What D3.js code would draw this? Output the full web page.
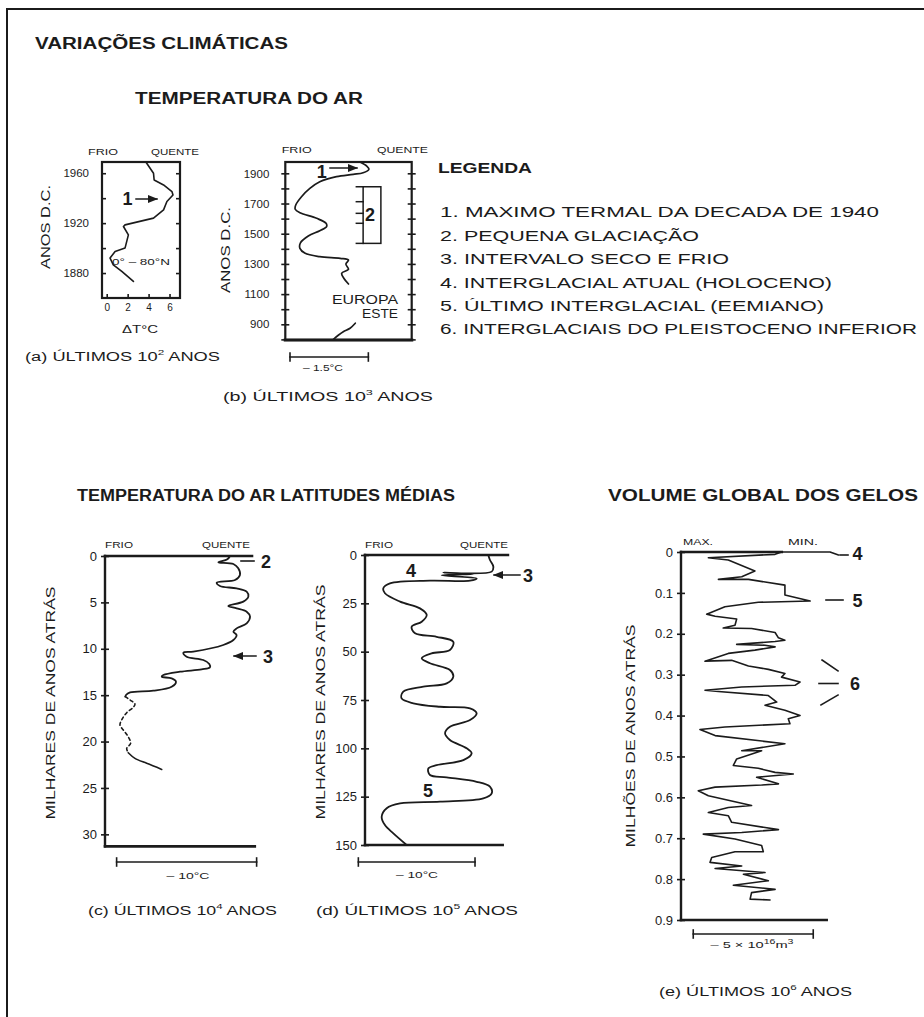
<!DOCTYPE html>
<html><head><meta charset="utf-8">
<script src="https://cdn.jsdelivr.net/npm/d3@7"></script>
<style>
body{margin:0;background:#fff;}
svg{display:block;}
text{font-family:"Liberation Sans", Arial, sans-serif;}
</style></head><body>
<svg id="c" width="924" height="1017"></svg>
<script>
// ---------- DATA ----------
// (a) last 10^2 years, 0-80°N
const aYears = [1969,1960,1954.6,1950.6,1945.3,1942.6,1937.3,1930.6,1924,1918.6,1917.3,1910.6,1900,1897.3,1892,1886.6,1881.3,1873.3];
const aDeltaT = [3.74,4.47,4.53,5.43,6.23,6.33,5.75,5.43,4.47,1.75,1.6,2.07,1.75,0.8,0.32,0.63,1.44,2.55];
const aYearTicks = [1880,1900,1920,1940,1960];
const aYearLabels = [1880,1920,1960];
const aTempTicks = [0,2,4,6];

// (b) last 10^3 years, Eastern Europe
const bYears1 = [1975,1948,1926,1904,1893,1878,1844,1800,1745,1690,1662,1639,1602,1569,1547,1520,1485,1440,1403,1370,1348,1337,1326,1299,1264,1238,1205,1167];
const bTemp1  = [1.43,1.56,1.60,1.49,1.30,0.98,0.66,0.47,0.31,0.20,0.19,0.28,0.60,0.78,0.79,0.66,0.44,0.29,0.28,0.38,0.66,1.05,1.21,1.16,1.21,1.08,1.12,1.21];
const bYears2 = [907,874,851,829,800];
const bTemp2  = [1.34,1.24,1.11,1.02,0.92];
const bYearTicks = [800,900,1000,1100,1200,1300,1400,1500,1600,1700,1800,1900];
const bYearLabels = [900,1100,1300,1500,1700,1900];
const bLittleIceAge = [1811,1436];
const bLittleIceAgeTicks = [1811,1712,1635,1569,1436];

// (c) last 10^4 years (thousands of years ago)
const cAge1  = [0,0.36,0.68,0.86,1.33,2.05,2.59,2.87,3.23,3.49,3.85,4.38,4.92,5.39,5.64,6.00,6.54,7.26,7.80,8.16,8.52,9.05,9.59,10.31,10.42,10.85,11.21,11.64,12.0,12.22,12.47,12.83,13.01,13.19,13.55,14.09,14.52,14.70,14.98,15.16];
const cTemp1 = [8.93,8.74,8.10,9.17,9.52,9.64,9.29,7.98,8.21,9.40,10.12,10.24,9.88,8.81,9.40,10.12,10.36,10.12,9.40,9.17,9.40,9.17,8.45,6.31,5.60,5.83,7.02,7.45,7.5,6.90,5.36,4.17,4.05,4.76,5.07,4.76,3.45,1.79,1.5,1.45];
const cAgeDashed  = [15.16,15.52,15.95,16.31,16.89,17.68,18.22,18.76,19.48,20.19,20.73,21.2];
const cTempDashed = [1.45,1.79,2.14,2.02,1.55,1.19,1.07,1.31,1.66,1.83,1.55,1.66];
const cAge2  = [21.2,21.81,22.35,23.0];
const cTemp2 = [1.66,2.14,2.98,4.05];
const cAgeTicks = [0,5,10,15,20,25,30];

// (d) last 10^5 years (thousands of years ago)
const dAge  = [0,2.6,6.0,8.6,9.1,9.8,10.5,12.1,13.3,13.3,14.7,17.2,19.8,24.1,27.6,31.0,34.5,37.1,40.5,42.3,44.9,49.1,50.9,53.4,56.0,59.5,62.9,66.4,68.1,70.7,74.2,76.7,78.5,79.3,81.9,85.4,88.8,92.2,95.7,100.0,102.6,106.1,108.7,110.4,113.8,115.0,117.3,119.8,123.3,125.9,127.6,128.5,131.0,135.4,139.7,144.0,150];
const dTemp = [10.57,10.71,11.0,10.86,6.71,9.28,6.57,9.57,9.0,5.57,2.14,1.57,1.71,3.0,4.71,5.29,4.86,4.0,4.29,6.14,7.57,7.28,5.71,4.86,5.57,7.28,7.57,7.0,5.0,3.28,3.14,4.14,6.43,9.0,9.57,9.0,7.28,6.86,7.28,8.71,9.14,8.43,6.14,5.43,5.57,7.0,9.57,10.71,10.86,10.14,6.43,3.0,1.86,1.43,1.71,2.43,3.57];
const dAgeTicks = [0,25,50,75,100,125,150];

// (e) last 10^6 years, global ice volume (millions of years ago)
const eAge = [0.0074,0,0,0.0057,0.014,0.0196,0.0466,0.0605,0.067,0.067,0.081,0.105,0.120,0.123,0.134,0.152,0.157,0.164,0.179,0.186,0.187,0.197,0.210,0.216,0.219,0.226,0.228,0.232,0.240,0.248,0.267,0.265,0.279,0.287,0.297,0.306,0.318,0.326,0.330,0.338,0.341,0.351,0.367,0.375,0.387,0.400,0.408,0.420,0.428,0.434,0.449,0.469,0.486,0.486,0.506,0.522,0.529,0.539,0.543,0.551,0.567,0.570,0.575,0.584,0.596,0.620,0.625,0.637,0.645,0.661,0.679,0.686,0.690,0.702,0.718,0.733,0.733,0.747,0.759,0.768,0.774,0.784,0.788,0.804,0.815,0.825,0.833,0.849,0.851];
const eIce = [6.56,6.21,4.19,3.92,1.14,1.97,3.08,2.53,1.56,2.81,4.33,4.33,5.38,3.22,1.83,1.07,1.42,2.32,2.25,1.76,2.94,3.92,4.06,4.33,3.92,2.32,3.5,3.92,3.08,1.97,1.0,2.11,2.81,3.64,4.33,4.19,4.96,4.75,2.53,1.0,1.56,3.64,3.99,3.5,4.33,4.96,4.47,4.54,1.83,0.79,1.42,4.33,2.53,3.36,2.32,2.18,3.22,3.92,4.68,3.15,4.06,3.36,1.42,0.72,1.14,2.94,1.97,1.14,1.97,2.11,4.06,2.53,0.93,2.25,3.36,3.43,2.25,1.28,1.21,2.53,1.42,3.5,2.6,3.64,2.18,3.92,2.94,2.88,3.71];
const eAgeTicks = [0,0.1,0.2,0.3,0.4,0.5,0.6,0.7,0.8,0.9];

const legendItems = [
  "1. MAXIMO TERMAL DA DECADA DE 1940",
  "2. PEQUENA GLACIAÇÃO",
  "3. INTERVALO SECO E FRIO",
  "4. INTERGLACIAL ATUAL (HOLOCENO)",
  "5. ÚLTIMO INTERGLACIAL (EEMIANO)",
  "6. INTERGLACIAIS DO PLEISTOCENO INFERIOR"
];

// ---------- DRAWING ----------
const INK = "#1b1b1b";
const FONT = "Liberation Sans, Arial, sans-serif";
const svg = d3.select("#c");
svg.append("rect").attr("width",924).attr("height",1017).attr("fill","#fff");

const defs = svg.append("defs");
defs.append("marker").attr("id","arr").attr("viewBox","0 0 10 10").attr("refX",9).attr("refY",5)
  .attr("markerWidth",7).attr("markerHeight",7).attr("orient","auto-start-reverse")
  .append("path").attr("d","M0,1 L10,5 L0,9 Z").attr("fill",INK);

function txt(g, x, y, s, o = {}) {
  const t = g.append("text").attr("x", x).attr("y", y)
    .attr("font-size", o.size || 12).attr("font-weight", o.weight || "normal")
    .attr("text-anchor", o.anchor || "start").attr("dominant-baseline", "central")
    .attr("fill", INK).attr("font-family", FONT);
  if (o.rotate) t.attr("transform", `rotate(-90 ${x} ${y})`);
  if (Array.isArray(s)) {
    s.forEach(p => {
      if (typeof p === "string") t.append("tspan").text(p);
      else t.append("tspan").attr("dy", p.dy).attr("font-size", p.size).text(p.t);
    });
  } else t.text(s);
  if (o.len) t.attr("textLength", o.len).attr("lengthAdjust", "spacingAndGlyphs");
  return t;
}
function ln(g, x1, y1, x2, y2, w = 2, extra) {
  const l = g.append("line").attr("x1", x1).attr("y1", y1).attr("x2", x2).attr("y2", y2)
    .attr("stroke", INK).attr("stroke-width", w).attr("stroke-linecap", "square");
  if (extra === "arrowEnd") l.attr("marker-end", "url(#arr)");
  if (extra === "arrowStart") l.attr("marker-start", "url(#arr)");
  return l;
}
function styleAxis(a, fs) {
  a.select(".domain").remove();
  a.selectAll("line").attr("stroke", INK).attr("stroke-width", 1.6);
  a.selectAll("text").attr("font-size", fs).attr("font-family", FONT).attr("fill", INK);
  return a;
}
function sup(t, size = 8) { return [{t, dy: -5, size}]; }
function caption(g, x, y, prefix, exp, len) {
  txt(g, x, y, [prefix + " ÚLTIMOS 10", {t: exp, dy: -5, size: 8}, {t: " ANOS", dy: 5, size: 12.5}], {size: 12.5, len});
}
function scaleBar(g, x1, x2, y) {
  ln(g, x1, y, x2, y, 1.6);
  ln(g, x1, y - 4, x1, y + 4, 1.6);
  ln(g, x2, y - 4, x2, y + 4, 1.6);
}
function curve(g, xs, ys, xScale, yScale, opts = {}) {
  const idx = d3.range(xs.length);
  const line = d3.line().x(i => xScale(xs[i])).y(i => yScale(ys[i]))
    .curve(opts.curve || d3.curveLinear);
  const p = g.append("path").attr("d", line(idx)).attr("fill", "none")
    .attr("stroke", INK).attr("stroke-width", opts.w || 1.7)
    .attr("stroke-linejoin", "round").attr("stroke-linecap", "round");
  if (opts.dash) p.attr("stroke-dasharray", opts.dash);
  return p;
}

// outer frame
svg.append("path").attr("d", "M7,1017 V9 H924").attr("fill", "none").attr("stroke", INK).attr("stroke-width", 2);

// titles
txt(svg, 35, 43, "VARIAÇÕES CLIMÁTICAS", {size: 16, weight: "bold", len: 253});
txt(svg, 135, 98, "TEMPERATURA DO AR", {size: 16, weight: "bold", len: 228});
txt(svg, 77, 495, "TEMPERATURA DO AR LATITUDES MÉDIAS", {size: 16, weight: "bold", len: 378});
txt(svg, 608, 495, "VOLUME GLOBAL DOS GELOS", {size: 16, weight: "bold", len: 310});

// legend
txt(svg, 438, 168, "LEGENDA", {size: 14.5, weight: "bold", len: 94});
const legLens = [439, 259, 289, 392, 384, 477];
const legY = [211, 235, 258, 282, 305, 328];
legendItems.forEach((s, i) => txt(svg, 440, legY[i], s, {size: 15.5, len: legLens[i]}));

// ===== Panel (a) =====
{
  const g = svg.append("g");
  const x = d3.scaleLinear([-0.45, 7], [102, 180]);
  const y = d3.scaleLinear([1860, 1969], [298, 162]);
  g.append("rect").attr("x", x(-0.45)).attr("y", y(1969)).attr("width", x(7) - x(-0.45)).attr("height", y(1860) - y(1969))
    .attr("fill", "none").attr("stroke", INK).attr("stroke-width", 2.2);
  styleAxis(g.append("g").attr("transform", `translate(${x(-0.45)},0)`)
    .call(d3.axisLeft(y).tickValues(aYearTicks).tickSizeInner(-4).tickSizeOuter(0).tickPadding(13)
      .tickFormat(d => aYearLabels.includes(d) ? d : "")), 11.5);
  styleAxis(g.append("g").attr("transform", `translate(${x(7)},0)`)
    .call(d3.axisRight(y).tickValues(aYearTicks).tickSizeInner(-4).tickSizeOuter(0).tickFormat("")), 11);
  styleAxis(g.append("g").attr("transform", `translate(0,${y(1860)})`)
    .call(d3.axisBottom(x).tickValues(aTempTicks).tickSizeInner(-4).tickSizeOuter(0).tickPadding(6)), 10);
  curve(g, aDeltaT, aYears, x, y, {w: 1.6});
  txt(g, 45, 227, "ANOS D.C.", {size: 13, anchor: "middle", rotate: true, len: 84});
  txt(g, 103, 152, "FRIO", {size: 9, anchor: "middle", len: 30});
  txt(g, 175, 152, "QUENTE", {size: 9, anchor: "middle", len: 48});
  txt(g, 127.5, 199, "1", {size: 18, weight: "bold", anchor: "middle"});
  ln(g, 136, 199, 157, 199, 1.5, "arrowEnd");
  txt(g, 141, 262, "0° – 80°N", {size: 9, anchor: "middle", len: 58});
  txt(g, 140, 329, "ΔT°C", {size: 10, anchor: "middle", len: 36});
  caption(g, 25, 357, "(a)", "2", 195);
}

// ===== Panel (b) =====
{
  const g = svg.append("g");
  const x = d3.scaleLinear([0, 2.42], [285.3, 411.7]);
  const y = d3.scaleLinear([796, 1975], [340, 162]);
  g.append("rect").attr("x", x(0)).attr("y", y(1975)).attr("width", x(2.42) - x(0)).attr("height", y(796) - y(1975))
    .attr("fill", "none").attr("stroke", INK).attr("stroke-width", 2.2);
  ln(g, x(0), y(796), x(2.42), y(796), 3.2);
  styleAxis(g.append("g").attr("transform", `translate(${x(0)},0)`)
    .call(d3.axisLeft(y).tickValues(bYearTicks).tickSizeInner(4).tickSizeOuter(0).tickPadding(12)
      .tickFormat(d => bYearLabels.includes(d) ? d : "")), 11.5);
  styleAxis(g.append("g").attr("transform", `translate(${x(0)},0)`)
    .call(d3.axisLeft(y).tickValues(bYearTicks).tickSizeInner(-4).tickSizeOuter(0).tickFormat("")), 11);
  styleAxis(g.append("g").attr("transform", `translate(${x(2.42)},0)`)
    .call(d3.axisRight(y).tickValues(bYearTicks).tickSizeInner(4).tickSizeOuter(0).tickFormat("")), 11);
  styleAxis(g.append("g").attr("transform", `translate(${x(2.42)},0)`)
    .call(d3.axisRight(y).tickValues(bYearTicks).tickSizeInner(-4).tickSizeOuter(0).tickFormat("")), 11);
  curve(g, bTemp1, bYears1, x, y, {w: 1.7, curve: d3.curveCatmullRom.alpha(0.5)});
  curve(g, bTemp2, bYears2, x, y, {w: 1.7, curve: d3.curveCatmullRom.alpha(0.5)});
  // little ice age bracket
  g.append("rect").attr("x", x(1.49)).attr("y", y(bLittleIceAge[0])).attr("width", x(1.83) - x(1.49))
    .attr("height", y(bLittleIceAge[1]) - y(bLittleIceAge[0])).attr("fill", "none").attr("stroke", INK).attr("stroke-width", 1.5);
  bLittleIceAgeTicks.forEach(yr => ln(g, x(1.36), y(yr), x(1.49), y(yr), 1.5));
  txt(g, 370, 215, "2", {size: 18, weight: "bold", anchor: "middle"});
  txt(g, 321.7, 171.5, "1", {size: 18, weight: "bold", anchor: "middle"});
  ln(g, 330, 168, 357, 168, 1.5, "arrowEnd");
  txt(g, 398, 300, "EUROPA", {size: 12.5, anchor: "end", len: 66});
  txt(g, 398, 313.5, "ESTE", {size: 12.5, anchor: "end", len: 36});
  txt(g, 225, 250, "ANOS D.C.", {size: 13, anchor: "middle", rotate: true, len: 86});
  txt(g, 296.7, 150, "FRIO", {size: 9, anchor: "middle", len: 30});
  txt(g, 402.5, 150, "QUENTE", {size: 9, anchor: "middle", len: 51});
  scaleBar(g, x(0.09), x(1.59), 357);
  txt(g, 323, 367.5, "– 1.5°C", {size: 9.5, anchor: "middle", len: 40});
  caption(g, 223, 397, "(b)", "3", 210);
}

// ===== Panel (c) =====
{
  const g = svg.append("g");
  const x = d3.scaleLinear([0, 10.8], [105, 256.2]);
  const y = d3.scaleLinear([0, 31.3], [556, 846.4]);
  ln(g, x(0), y(0), x(0), y(31.3), 2.4);
  ln(g, x(0), y(0), x(10.5), y(0), 2.6);
  ln(g, x(0), y(31.3), x(10.7), y(31.3), 2.6);
  styleAxis(g.append("g").attr("transform", `translate(${x(0)},0)`)
    .call(d3.axisLeft(y).tickValues(cAgeTicks).tickSizeInner(4).tickSizeOuter(0).tickPadding(4)), 13);
  styleAxis(g.append("g").attr("transform", `translate(${x(0)},0)`)
    .call(d3.axisLeft(y).tickValues(cAgeTicks).tickSizeInner(-4).tickSizeOuter(0).tickFormat("")), 13);
  curve(g, cTemp1, cAge1, x, y, {w: 1.8, curve: d3.curveCatmullRom.alpha(0.5)});
  curve(g, cTempDashed, cAgeDashed, x, y, {w: 1.6, dash: "3,3", curve: d3.curveCatmullRom.alpha(0.5)});
  curve(g, cTemp2, cAge2, x, y, {w: 1.6, curve: d3.curveCatmullRom.alpha(0.5)});
  txt(g, 119, 545, "FRIO", {size: 9, anchor: "middle", len: 28});
  txt(g, 226, 545, "QUENTE", {size: 9, anchor: "middle", len: 48});
  txt(g, 50, 703, "MILHARES DE ANOS ATRÁS", {size: 13, anchor: "middle", rotate: true, len: 233});
  txt(g, 266, 562, "2", {size: 18, weight: "bold", anchor: "middle"});
  ln(g, 241, 561, 254, 561, 1.6);
  txt(g, 268, 657, "3", {size: 18, weight: "bold", anchor: "middle"});
  ln(g, 256, 656, 234, 656, 1.5, "arrowEnd");
  scaleBar(g, x(0.83), x(10.83), 862);
  txt(g, 188, 875, "– 10°C", {size: 9.5, anchor: "middle", len: 43});
  caption(g, 88, 911, "(c)", "4", 189);
}

// ===== Panel (d) =====
{
  const g = svg.append("g");
  const x = d3.scaleLinear([0, 12.3], [365, 508.5]);
  const y = d3.scaleLinear([0, 150], [555, 845]);
  ln(g, x(0), y(0), x(0), y(150), 2.4);
  ln(g, x(0), y(0), x(12.25), y(0), 2.6);
  ln(g, x(0), y(150), x(11.8), y(150), 2.6);
  styleAxis(g.append("g").attr("transform", `translate(${x(0)},0)`)
    .call(d3.axisLeft(y).tickValues(dAgeTicks).tickSizeInner(4).tickSizeOuter(0).tickPadding(4)), 13);
  styleAxis(g.append("g").attr("transform", `translate(${x(0)},0)`)
    .call(d3.axisLeft(y).tickValues(dAgeTicks).tickSizeInner(-4).tickSizeOuter(0).tickFormat("")), 13);
  curve(g, dTemp, dAge, x, y, {w: 1.8, curve: d3.curveCatmullRom.alpha(0.5)});
  txt(g, 379, 545, "FRIO", {size: 9, anchor: "middle", len: 28});
  txt(g, 484, 545, "QUENTE", {size: 9, anchor: "middle", len: 48});
  txt(g, 320, 702, "MILHARES DE ANOS ATRÁS", {size: 13, anchor: "middle", rotate: true, len: 235});
  txt(g, 411, 571, "4", {size: 18, weight: "bold", anchor: "middle"});
  txt(g, 528, 576, "3", {size: 18, weight: "bold", anchor: "middle"});
  ln(g, 520, 575, 494, 575, 1.5, "arrowEnd");
  txt(g, 428, 791, "5", {size: 18, weight: "bold", anchor: "middle"});
  scaleBar(g, x(-0.57), x(9.43), 862);
  txt(g, 417, 874, "– 10°C", {size: 9.5, anchor: "middle", len: 42});
  caption(g, 316, 911, "(d)", "5", 202);
}

// ===== Panel (e) =====
{
  const g = svg.append("g");
  const x = d3.scaleLinear([0, 7.5], [681, 861]);
  const y = d3.scaleLinear([0, 0.9], [552, 920]);
  ln(g, x(0), y(0), x(0), y(0.9), 2.4);
  ln(g, x(0), y(0), x(4.2), y(0), 2.6);
  ln(g, x(0), y(0.9), x(6.07), y(0.9), 2.6);
  styleAxis(g.append("g").attr("transform", `translate(${x(0)},0)`)
    .call(d3.axisLeft(y).tickValues(eAgeTicks).tickSizeInner(4).tickSizeOuter(0).tickPadding(4)
      .tickFormat(d => d === 0 ? "0" : d3.format(".1f")(d))), 13);
  styleAxis(g.append("g").attr("transform", `translate(${x(0)},0)`)
    .call(d3.axisLeft(y).tickValues(eAgeTicks).tickSizeInner(-4).tickSizeOuter(0).tickFormat("")), 13);
  curve(g, eIce, eAge, x, y, {w: 1.6});
  txt(g, 698, 542, "MAX.", {size: 9, anchor: "middle", len: 30});
  txt(g, 803, 542, "MIN.", {size: 9, anchor: "middle", len: 30});
  txt(g, 630, 736, "MILHÕES DE ANOS ATRÁS", {size: 13, anchor: "middle", rotate: true, len: 223});
  txt(g, 857.5, 554, "4", {size: 18, weight: "bold", anchor: "middle"});
  ln(g, 840, 555, 848, 555, 1.6);
  txt(g, 857.5, 601, "5", {size: 18, weight: "bold", anchor: "middle"});
  ln(g, 826, 600, 843, 600, 1.6);
  txt(g, 855, 684, "6", {size: 18, weight: "bold", anchor: "middle"});
  ln(g, 822, 660, 838, 671, 1.6);
  ln(g, 819, 683.5, 838, 683.5, 1.6);
  ln(g, 821, 705, 838, 695, 1.6);
  scaleBar(g, x(0.51), x(5.51), 934);
  txt(g, 752, 945, ["– 5 × 10", {t: "16", dy: -4, size: 6.5}, {t: "m", dy: 4, size: 9}, {t: "3", dy: -4, size: 6.5}], {size: 9, anchor: "middle", len: 83});
  caption(g, 659, 992, "(e)", "6", 193);
}
</script>
</body></html>
